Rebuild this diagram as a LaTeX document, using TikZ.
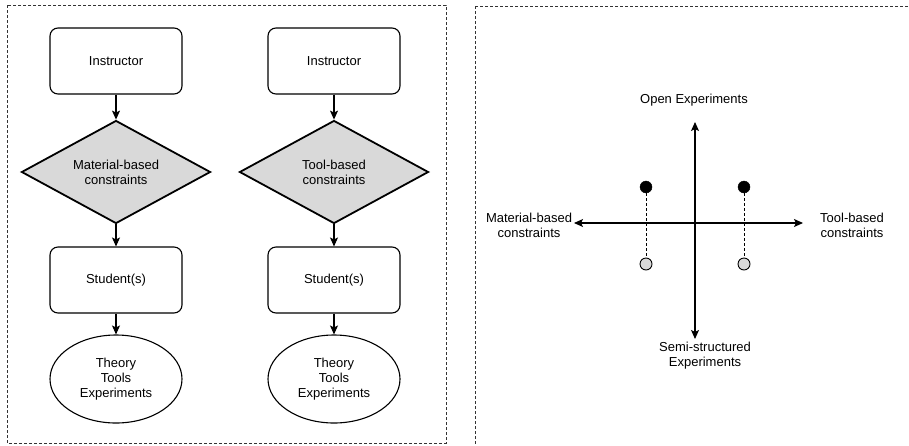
\documentclass[tikz,border=0pt]{standalone}
\usepackage{fontspec}
\setmainfont{Liberation Sans}
\usetikzlibrary{shapes.geometric,arrows.meta}
\definecolor{panelgrey}{HTML}{D9D9D9}
\tikzset{
  panel/.style={draw=black!80, line width=0.9pt, dash pattern=on 3pt off 2pt},
  roundbox/.style={draw, line width=1.1pt, rounded corners=8pt, minimum width=132pt, minimum height=66pt, inner sep=0pt},
  decision/.style={draw, diamond, fill=panelgrey, line width=1.8pt, minimum width=189pt, minimum height=103pt, inner sep=0pt},
  outcome/.style={draw, ellipse, line width=1.1pt, minimum width=132pt, minimum height=88pt, inner sep=0pt, align=center},
  flow/.style={line width=1.1pt, -{Stealth[length=9pt,width=8pt,inset=2pt]}},
  axis/.style={line width=1.1pt, {Stealth[length=9pt,width=8pt,inset=2pt]}-{Stealth[length=9pt,width=8pt,inset=2pt]}},
  label/.style={align=center, inner sep=0pt},
  topdot/.style={circle, fill=black, draw=black, minimum size=12pt, inner sep=0pt},
  lowdot/.style={circle, fill=panelgrey, draw=black, line width=0.9pt, minimum size=12pt, inner sep=0pt},
  stem/.style={line width=0.9pt, dash pattern=on 3pt off 2pt}
}
\begin{document}
\begin{tikzpicture}[x=1pt, y=-1pt, font=\fontsize{13}{15}\selectfont]
\useasboundingbox (0,0) rectangle (909,445);
\fill[white] (0,0) rectangle (909,445);

% panel frames
\draw[panel] (7,5) rectangle (446,443);
\begin{scope}
  \clip (0,0) rectangle (909,445);
  \draw[panel] (475,6) rectangle (915,450);
\end{scope}

% material-based chain
\node[roundbox] (inA) at (116,61) {Instructor};
\node[decision] (conA) at (116,172) {};
\node[label] (conAtext) at (conA) {Material-based\\constraints};
\node[roundbox] (stA) at (116,280) {Student(s)};
\node[outcome] (outA) at (116,379) {Theory\\Tools\\Experiments};
\draw[flow] (inA) -- (conA);
\draw[flow] (conA) -- (stA);
\draw[flow] (stA) -- (outA);

% tool-based chain
\node[roundbox] (inB) at (334,61) {Instructor};
\node[decision] (conB) at (334,172) {};
\node[label] (conBtext) at (conB) {Tool-based\\constraints};
\node[roundbox] (stB) at (334,280) {Student(s)};
\node[outcome] (outB) at (334,379) {Theory\\Tools\\Experiments};
\draw[flow] (inB) -- (conB);
\draw[flow] (conB) -- (stB);
\draw[flow] (stB) -- (outB);

% quadrant chart
\coordinate (axT) at (695,122);
\coordinate (axB) at (695,339);
\coordinate (axL) at (574,223);
\coordinate (axR) at (803,223);
\draw[axis] (axB) -- (axT);
\draw[axis] (axL) -- (axR);

\node[label] (open) at (694,100) {Open Experiments};
\node[label] (semi) at (705,356) {Semi-structured\\Experiments};
\node[label] (matl) at (529,225) {Material-based\\constraints};
\node[label] (tool) at (852,225) {Tool-based\\constraints};

\node[topdot] (dA) at (646,187) {};
\node[lowdot] (eA) at (646,264) {};
\node[topdot] (dB) at (744,187) {};
\node[lowdot] (eB) at (744,264) {};
\draw[stem] (dA) -- (eA);
\draw[stem] (dB) -- (eB);
\end{tikzpicture}
\end{document}
